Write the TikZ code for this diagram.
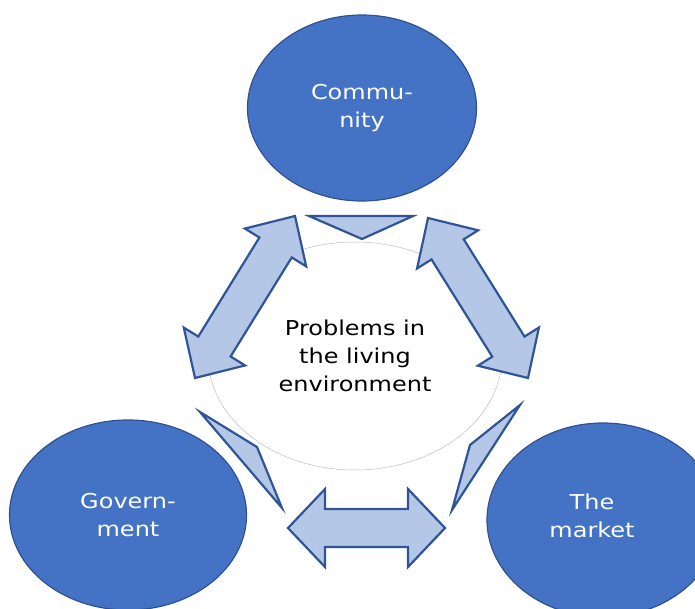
\documentclass[tikz,border=0pt]{standalone}
\usepackage{fontspec}
\setmainfont{DejaVu Sans}[FakeStretch=1.17]
\usetikzlibrary{shapes.geometric}
\usetikzlibrary{calc}
\usepackage{xcolor}
\definecolor{darkblue}{HTML}{4472C4}
\definecolor{edgeblue}{HTML}{2F528F}
\definecolor{paleblue}{HTML}{B4C7E7}
\definecolor{arrowline}{HTML}{2F5597}

% double block arrow between two tips: #1, #2 tips, #3 half width of the heads
\newcommand{\twoway}[3]{%
  \draw[bigarrow] (#1)
    -- ($(#1)!37pt!(#2)!#3!90:(#2)$)
    -- ($(#1)!37pt!(#2)!19pt!90:(#2)$)
    -- ($(#2)!37pt!(#1)!19pt!-90:(#1)$)
    -- ($(#2)!37pt!(#1)!#3!-90:(#1)$)
    -- (#2)
    -- ($(#2)!37pt!(#1)!#3!90:(#1)$)
    -- ($(#2)!37pt!(#1)!19pt!90:(#1)$)
    -- ($(#1)!37pt!(#2)!19pt!-90:(#2)$)
    -- ($(#1)!37pt!(#2)!#3!-90:(#2)$)
    -- cycle;}

\begin{document}
\begin{tikzpicture}[x=1pt,y=-1pt,
    blob/.style={draw=edgeblue, line width=1.2pt, fill=darkblue, ellipse, inner sep=0pt,
      text=white, align=center, font=\fontsize{20.5}{28}\selectfont},
    bigarrow/.style={draw=arrowline, line width=2.2pt, fill=paleblue, line join=miter}]
            \useasboundingbox (0,0) rectangle (695,608);
            % Central issue
            \node[draw=black!25, line width=0.5pt, ellipse, fill=white, inner sep=0pt,
              minimum width=294, minimum height=228, align=center,
              font=\fontsize{20.5}{28}\selectfont] (issue) at (355,356) {Problems in\\the living\\environment};
            
            % Actors
            \node[blob, minimum width=229, minimum height=186] (community) at (362,108) {Commu-\\nity};
            \node[blob, minimum width=237, minimum height=190] (government) at (128,515) {Govern-\\ment};
            \node[blob, minimum width=232, minimum height=194,
              label={[xshift=-11pt, yshift=4pt, text=white, align=center, font=\fontsize{20.5}{28}\selectfont]center:The\\market}] (market) at (603,520) {};
            
            % Arrow tips
            \coordinate (cg1) at (295,216);
            \coordinate (cg2) at (195,378);
            \coordinate (cm1) at (428,218);
            \coordinate (cm2) at (528,378);
            \coordinate (gm1) at (288,528);
            \coordinate (gm2) at (445,528);
            
            \twoway{cg1}{cg2}{36pt}
            \twoway{cm1}{cm2}{36pt}
            \twoway{gm1}{gm2}{39pt}
            
            % Pointers towards the issue
            \draw[bigarrow] (309,216) -- (413,216) -- (362,239) -- cycle;
            \draw[bigarrow] (200,412) -- (257,447) -- (282,508) -- cycle;
            \draw[bigarrow] (520,405) -- (470,445) -- (452,510) -- cycle;
        \end{tikzpicture}
\end{document}
